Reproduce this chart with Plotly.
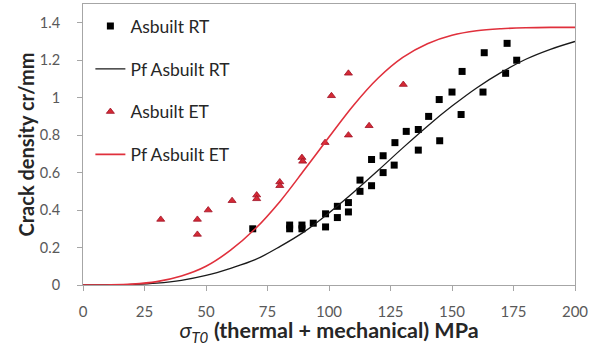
import plotly.graph_objects as go

# ---- data ----
rt_x = [69, 84, 84, 89, 89, 93.6, 98.6, 98.6, 103.4, 103.4, 107.9, 107.9, 112.6, 112.6,
        117.3, 117.3, 122, 122, 126.5, 126.8, 131.4, 136.3, 136.3, 140.5, 145, 144.8,
        150, 153.7, 154.1, 162.6, 163.1, 171.8, 172.4, 176.3]
rt_y = [0.30, 0.30, 0.32, 0.30, 0.32, 0.33, 0.31, 0.38, 0.36, 0.42, 0.39, 0.44, 0.50, 0.56,
        0.53, 0.67, 0.60, 0.69, 0.64, 0.76, 0.82, 0.72, 0.83, 0.90, 0.77, 0.99,
        1.03, 0.91, 1.14, 1.03, 1.24, 1.13, 1.29, 1.20]

et_x = [31.6, 46.5, 46.5, 50.9, 60.6, 70.6, 70.6, 80, 80, 89, 89.3, 98.4, 101, 107.9,
        107.9, 116.3, 130.2]
et_y = [0.35, 0.35, 0.27, 0.40, 0.45, 0.48, 0.46, 0.55, 0.53, 0.68, 0.66, 0.76, 1.01, 0.80,
        1.13, 0.85, 1.07]

fit_x = [0, 10, 20, 30, 40, 50, 60, 70, 80, 90, 100, 110, 120, 130, 140, 150, 160, 170,
         180, 190, 200]
pf_rt_y = [0, 0.0003, 0.003, 0.010, 0.025, 0.051, 0.089, 0.135, 0.205, 0.285, 0.385, 0.495,
           0.612, 0.732, 0.848, 0.955, 1.052, 1.135, 1.205, 1.258, 1.300]
pf_et_y = [0, 0.0004, 0.0045, 0.018, 0.048, 0.100, 0.186, 0.300, 0.445, 0.615, 0.790, 0.960,
           1.105, 1.215, 1.288, 1.333, 1.357, 1.368, 1.373, 1.375, 1.375]

x_ticks = [0, 25, 50, 75, 100, 125, 150, 175, 200]
y_ticks = [0, 0.2, 0.4, 0.6, 0.8, 1.0, 1.2, 1.4]
y_tick_text = ["0", "0.2", "0.4", "0.6", "0.8", "1", "1.2", "1.4"]

FONT = "Lato"
fig = go.Figure()
fig.add_trace(go.Scatter(x=rt_x, y=rt_y, mode="markers", name="Asbuilt RT", legendgroup="a",
                         marker=dict(symbol="square", size=7, color="#000000")))
fig.add_trace(go.Scatter(x=fit_x, y=pf_rt_y, mode="lines", name="Pf Asbuilt RT", legendgroup="b",
                         line=dict(color="#1a1a1a", width=1.3, shape="spline")))
fig.add_trace(go.Scatter(x=et_x, y=et_y, mode="markers", name="Asbuilt ET", legendgroup="c",
                         marker=dict(symbol="triangle-up", size=7, color="#d42a35",
                                     line=dict(color="#a01025", width=0.8))))
fig.add_trace(go.Scatter(x=fit_x, y=pf_et_y, mode="lines", name="Pf Asbuilt ET", legendgroup="d",
                         line=dict(color="#e0303c", width=1.6, shape="spline")))

axis_common = dict(showgrid=False, zeroline=False, showline=True, linecolor="#a6a6a6",
                   linewidth=1, mirror=True, ticks="outside", tickcolor="#a6a6a6",
                   ticklen=5, automargin=False)
fig.update_xaxes(range=[0, 200], tickvals=x_ticks, ticklabelstandoff=8,
                 tickfont=dict(family=FONT, size=15, color="#595959"),
                 title=dict(text="<i>σ</i><sub><i>T0</i></sub> <b>(thermal + mechanical) MPa</b>",
                            font=dict(family=FONT, size=21.5, color="#262626"), standoff=21),
                 **axis_common)
fig.update_yaxes(range=[0, 1.5], tickvals=y_ticks, ticktext=y_tick_text,
                 ticklabelstandoff=14,
                 tickfont=dict(family=FONT, size=14.5, color="#595959"),
                 **axis_common)
fig.add_annotation(text="<b>Crack density cr/mm</b>", xref="paper", yref="paper",
                   x=-0.116, y=0.5, xanchor="center", yanchor="middle", textangle=-90,
                   showarrow=False, font=dict(family=FONT, size=20, color="#262626"))
fig.update_layout(
    width=589, height=346,
    margin=dict(l=83, r=14, t=4, b=61),
    paper_bgcolor="white", plot_bgcolor="white",
    legend=dict(x=0.015, y=0.985, xanchor="left", yanchor="top", bgcolor="rgba(0,0,0,0)",
                traceorder="grouped", tracegroupgap=17,
                font=dict(family=FONT, size=17.5, color="#262626")),
)
fig.write_html("out.html", config={"displayModeBar": False},
               post_script="document.body.style.margin='0';")
